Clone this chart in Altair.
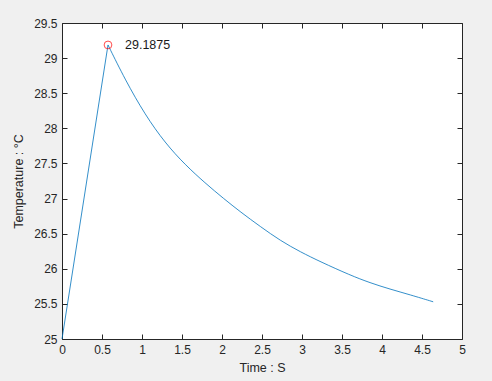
import altair as alt
import pandas as pd

rise_t = [0, 0.575]
rise_v = [25, 29.1875]
decay_t = [0.575, 0.79, 1.04, 1.29, 1.54, 1.79, 2.02, 2.23, 2.48, 2.73, 2.98, 3.23, 3.6, 3.85, 4.1, 4.35, 4.64]
decay_v = [29.1875, 28.69, 28.19, 27.79, 27.48, 27.22, 27.00, 26.81, 26.60, 26.40, 26.24, 26.10, 25.91, 25.80, 25.71, 25.63, 25.53]
peak_t = [0.575]
peak_v = [29.1875]
peak_label = ["29.1875"]
x_ticks = [0, 0.5, 1, 1.5, 2, 2.5, 3, 3.5, 4, 4.5, 5]
y_ticks = [25, 25.5, 26, 26.5, 27, 27.5, 28, 28.5, 29, 29.5]

rise = pd.DataFrame({"t": rise_t, "T": rise_v})
decay = pd.DataFrame({"t": decay_t, "T": decay_v})
pk = pd.DataFrame({"t": peak_t, "T": peak_v, "label": peak_label})

FONT = "Liberation Sans"
AX = "#262626"
FS = 12

xs = alt.Scale(domain=[0, 5], nice=False, zero=False)
ys = alt.Scale(domain=[25, 29.5], nice=False, zero=False)

x_axis = alt.Axis(values=x_ticks, labelExpr="datum.value", title="Time : S",
                  grid=False, domain=False, offset=-5, tickSize=5, tickColor=AX,
                  labelFlush=False, labelOverlap=False,
                  labelPadding=5, labelColor=AX, labelFont=FONT, labelFontSize=FS,
                  titleFont=FONT, titleFontSize=12.5, titleFontWeight="normal",
                  titleColor=AX, titlePadding=6)
y_axis = alt.Axis(values=y_ticks, labelExpr="datum.value", title="Temperature : °C",
                  grid=False, domain=False, offset=-5, tickSize=5, tickColor=AX,
                  labelFlush=False, labelOverlap=False,
                  labelPadding=5, labelColor=AX, labelFont=FONT, labelFontSize=FS,
                  titleFont=FONT, titleFontSize=12.5, titleFontWeight="normal",
                  titleColor=AX, titlePadding=8)
x_top = alt.Axis(values=x_ticks, orient="top", labels=False, title=None,
                 grid=False, domain=False, offset=-5, tickSize=5, tickColor=AX)
y_right = alt.Axis(values=y_ticks, orient="right", labels=False, title=None,
                   grid=False, domain=False, offset=-5, tickSize=5, tickColor=AX)

rise_line = alt.Chart(rise).mark_line(color="#0072BD", strokeWidth=0.8).encode(
    x=alt.X("t:Q", scale=xs, axis=x_axis),
    y=alt.Y("T:Q", scale=ys, axis=y_axis),
)

decay_line = alt.Chart(decay).mark_line(color="#0072BD", strokeWidth=0.8, interpolate="basis").encode(
    x=alt.X("t:Q", scale=xs, axis=None),
    y=alt.Y("T:Q", scale=ys, axis=None),
)

marker = alt.Chart(pk).mark_point(shape="circle", filled=False, color="#FF0000",
                                  size=60, strokeWidth=1).encode(
    x=alt.X("t:Q", scale=xs, axis=x_top),
    y=alt.Y("T:Q", scale=ys, axis=y_right),
)

text = alt.Chart(pk).mark_text(align="left", baseline="middle", dx=17, font=FONT,
                               fontSize=12.5, color="#1a1a1a").encode(
    x=alt.X("t:Q", scale=xs, axis=None),
    y=alt.Y("T:Q", scale=ys, axis=None),
    text="label:N",
)

chart = alt.layer(rise_line, decay_line, marker, text).resolve_axis(x="independent", y="independent").properties(
    width=400, height=316,
    autosize=alt.AutoSizeParams(type="none"),
    padding={"left": 62, "top": 23, "right": 30, "bottom": 42},
    background="#f0f0f0",
).configure_view(fill="white", stroke=AX, strokeWidth=1)

chart.save("out.html", embed_options={"renderer": "svg", "actions": False})
